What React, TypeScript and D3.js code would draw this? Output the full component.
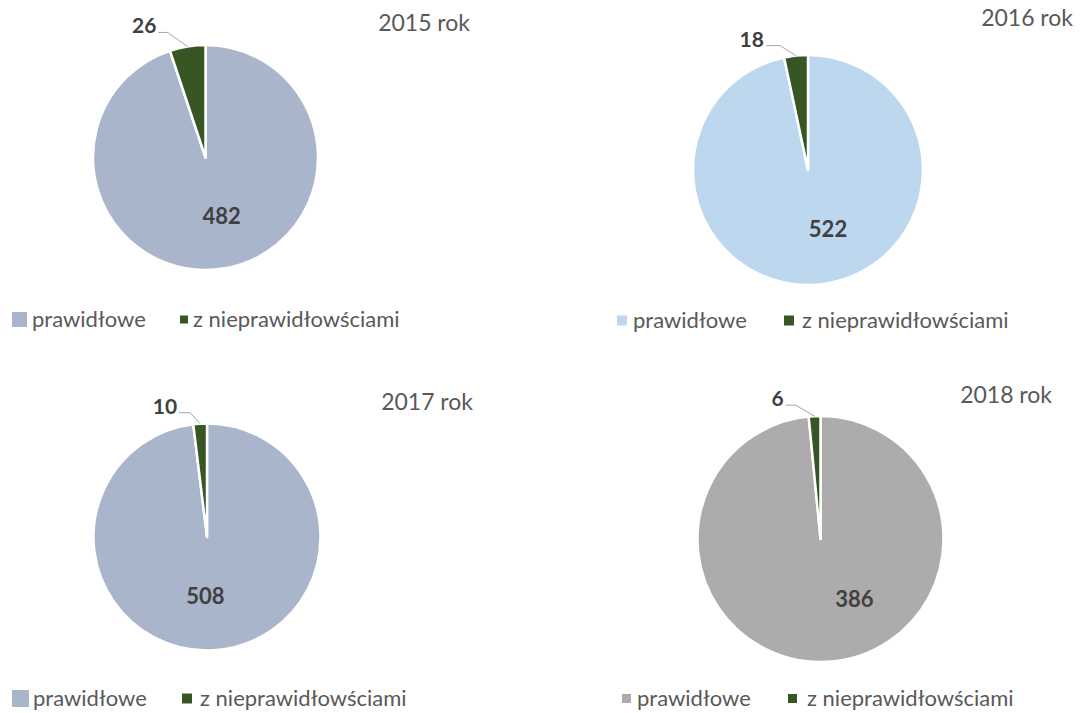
import React from "react";
import * as d3 from "d3";

// Audited entities per year: correct vs. with irregularities
const years = ["2015 rok", "2016 rok", "2017 rok", "2018 rok"];
const categories = ["prawidłowe", "z nieprawidłowściami"];
const correctCounts = [482, 522, 508, 386];
const irregularCounts = [26, 18, 10, 6];
const mainColors = ["#A9B5CA", "#BDD7EE", "#A9B5CA", "#ADABAB"];
const irregularColor = "#375623";

const FONT = "Lato, 'Open Sans', 'DejaVu Sans', sans-serif";
const TEXT_GRAY = "#595959";
const LABEL_DARK = "#404040";

// Per-panel placement of pie, title, callout and legend
const layout = [
  {
    cx: 205.5, cy: 157.5, r: 112.5,
    titleX: 470, titleY: 31,
    mainShift: [7, 2],
    callout: { dx: -29, dy: -14, h: 9 },
    legendY: 327,
    swatches: [{ x: 12, size: 15 }, { x: 180, size: 8 }],
    textX: [32, 193],
  },
  {
    cx: 808, cy: 170, r: 115,
    titleX: 1073, titleY: 26,
    mainShift: [14, 1],
    callout: { dx: -30, dy: -10, h: 14 },
    legendY: 328,
    swatches: [{ x: 617, size: 10 }, { x: 784, size: 10 }],
    textX: [633, 802],
  },
  {
    cx: 207, cy: 537, r: 113.5,
    titleX: 473, titleY: 410,
    mainShift: [-5, 2],
    callout: { dx: -21, dy: -11, h: 11 },
    legendY: 706,
    swatches: [{ x: 12, size: 17 }, { x: 182, size: 10 }],
    textX: [33, 200],
  },
  {
    cx: 820.5, cy: 539, r: 123,
    titleX: 1052, titleY: 403,
    mainShift: [31, -2],
    callout: { dx: -29, dy: -11, h: 10 },
    legendY: 706,
    swatches: [{ x: 622, size: 9 }, { x: 788, size: 9 }],
    textX: [637, 807],
  },
];

type Slice = { name: string; value: number; color: string };

function PiePanel({ idx }: { idx: number }) {
  const L = layout[idx];
  const slices: Slice[] = [
    { name: categories[0], value: correctCounts[idx], color: mainColors[idx] },
    { name: categories[1], value: irregularCounts[idx], color: irregularColor },
  ];
  const pie = d3
    .pie<Slice>()
    .sort(null)
    .value((d) => d.value);
  const arcs = pie(slices);
  const arc = d3.arc<d3.PieArcDatum<Slice>>().innerRadius(0).outerRadius(L.r);

  const main = arcs[0];
  const small = arcs[1];
  const [mcx, mcy] = arc.centroid(main);

  // callout anchor on the outer edge of the small slice
  const mid = (small.startAngle + small.endAngle) / 2;
  const px = L.cx + Math.sin(mid) * L.r;
  const py = L.cy - Math.cos(mid) * L.r;
  const sx = px + L.callout.dx;
  const sy = py + L.callout.dy;
  const ex = sx + L.callout.h;

  const swatchColors = [mainColors[idx], irregularColor];

  return (
    <g>
      <g transform={`translate(${L.cx},${L.cy})`}>
        {arcs.map((a, i) => (
          <path
            key={i}
            d={arc(a) || ""}
            fill={a.data.color}
            stroke="#FFFFFF"
            strokeWidth={2.5}
            strokeLinejoin="round"
          />
        ))}
        <text
          x={mcx + L.mainShift[0]}
          y={mcy + L.mainShift[1]}
          textAnchor="middle"
          dominantBaseline="central"
          fontFamily={FONT}
          fontWeight={700}
          fontSize={22}
          fill={LABEL_DARK}
        >
          {main.data.value}
        </text>
      </g>

      <polyline
        points={`${sx},${sy} ${ex},${sy} ${px},${py}`}
        fill="none"
        stroke="#A6A6A6"
        strokeWidth={1}
      />
      <text
        x={sx - 2}
        y={sy + 1}
        textAnchor="end"
        fontFamily={FONT}
        fontWeight={700}
        fontSize={21}
        fill={LABEL_DARK}
      >
        {small.data.value}
      </text>

      <text
        x={L.titleX}
        y={L.titleY}
        textAnchor="end"
        fontFamily={FONT}
        fontSize={23}
        fill={TEXT_GRAY}
      >
        {years[idx]}
      </text>

      {categories.map((c, i) => {
        const sw = L.swatches[i];
        const cyLegend = L.legendY - 7.5;
        return (
          <g key={c}>
            <rect
              x={sw.x}
              y={cyLegend - sw.size / 2}
              width={sw.size}
              height={sw.size}
              fill={swatchColors[i]}
            />
            <text
              x={L.textX[i]}
              y={L.legendY}
              fontFamily={FONT}
              fontSize={22}
              fill={TEXT_GRAY}
            >
              {c}
            </text>
          </g>
        );
      })}
    </g>
  );
}

export default function App() {
  return (
    <svg
      width={1081}
      height={713}
      viewBox="0 0 1081 713"
      style={{ position: "absolute", left: 0, top: 0, background: "#FFFFFF" }}
    >
      <rect x={0} y={0} width={1081} height={713} fill="#FFFFFF" />
      {years.map((_, i) => (
        <PiePanel key={i} idx={i} />
      ))}
    </svg>
  );
}
